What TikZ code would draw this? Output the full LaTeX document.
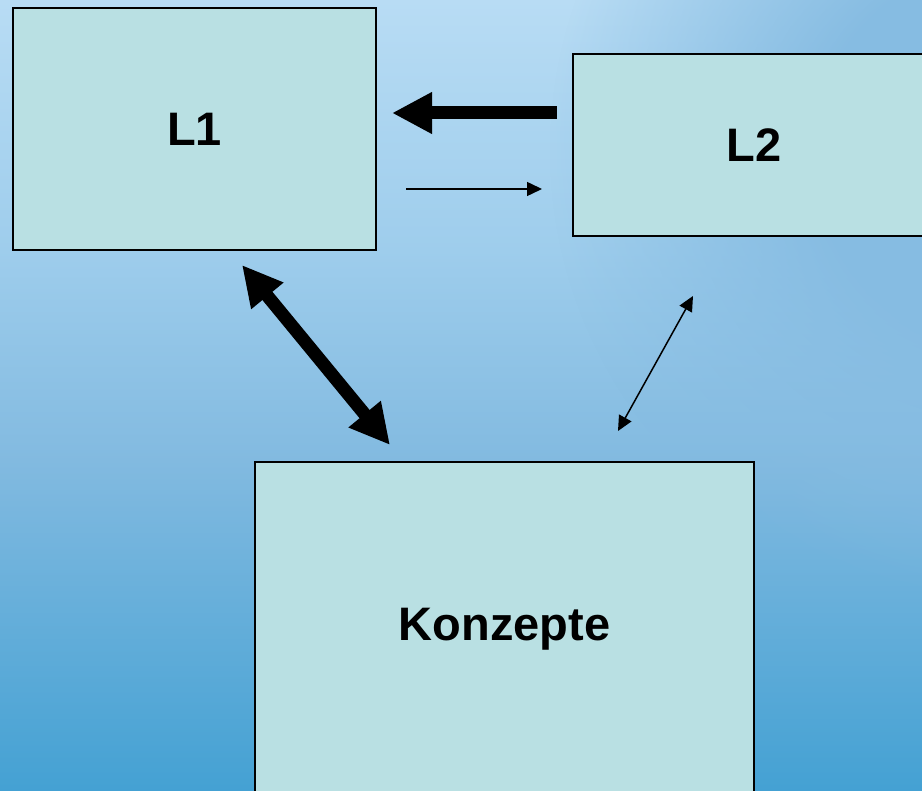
\documentclass[tikz,border=0pt]{standalone}
\usepackage{fontspec}
\setmainfont{Liberation Sans}
\usetikzlibrary{arrows.meta,calc,fadings}
\definecolor{boxfill}{HTML}{B9E0E3}
\definecolor{bgA}{HTML}{B8DCF4}
\definecolor{bgB}{HTML}{9ECDEC}
\definecolor{bgC}{HTML}{82BAE0}
\definecolor{bgD}{HTML}{44A1D3}
\definecolor{bgdark}{HTML}{86BCE2}
\pgfdeclareradialshading{spotshade}{\pgfpointorigin}{color(0bp)=(pgftransparent!0); color(10bp)=(pgftransparent!0); color(25bp)=(pgftransparent!100); color(50bp)=(pgftransparent!100)}
\pgfdeclarefading{softspot}{\pgfuseshading{spotshade}}

\begin{document}
\begin{tikzpicture}[x=1pt,y=-1pt,
  box/.style={draw,line width=1.5pt,fill=boxfill,inner sep=0pt,outer sep=0pt,
    font=\fontsize{47}{50}\selectfont\bfseries},
  bigarrow/.style={line width=13pt,-{Triangle[length=40pt,width=39pt]}},
  bigboth/.style={line width=13pt,{Triangle[length=40pt,width=39pt]}-{Triangle[length=40pt,width=39pt]}},
  thinarrow/.style={line width=1.5pt,-{Triangle[length=15pt,width=14pt]}},
  thinboth/.style={line width=1.5pt,{Triangle[length=15pt,width=14pt]}-{Triangle[length=15pt,width=14pt]}}]
\useasboundingbox (0,0) rectangle (922,791);
\clip (0,0) rectangle (922,791);
% background
\shade[top color=bgA,bottom color=bgB] (0,0) rectangle (922,251);
\shade[top color=bgB,bottom color=bgC] (0,250) rectangle (922,461);
\shade[top color=bgC,bottom color=bgD] (0,460) rectangle (922,791);
\fill[bgdark,path fading=softspot] (1000,150) circle (450);
% boxes
\node[box,minimum width=363pt,minimum height=242pt] (L1) at (194.5,129) {L1};
\node[box,minimum width=362pt,minimum height=182pt] (L2) at (754,145) {L2};
\node[box,minimum width=499pt,minimum height=334pt] (K) at (504.5,629) {Konzepte};
% arrows
\draw[bigarrow] ($(L2.west)+(-16,-32)$) -- ($(L1.east)+(16,-16)$);
\draw[thinarrow] ($(L1.east)+(30,60)$) -- ($(L2.west)+(-31,44)$);
\draw[bigboth] ($(L1.south)+(47.5,15)$) -- ($(K.north)+(-114.5,-17)$);
\draw[thinboth] ($(L2.south)+(-61,60)$) -- ($(K.north)+(113.5,-31)$);
\end{tikzpicture}
\end{document}
